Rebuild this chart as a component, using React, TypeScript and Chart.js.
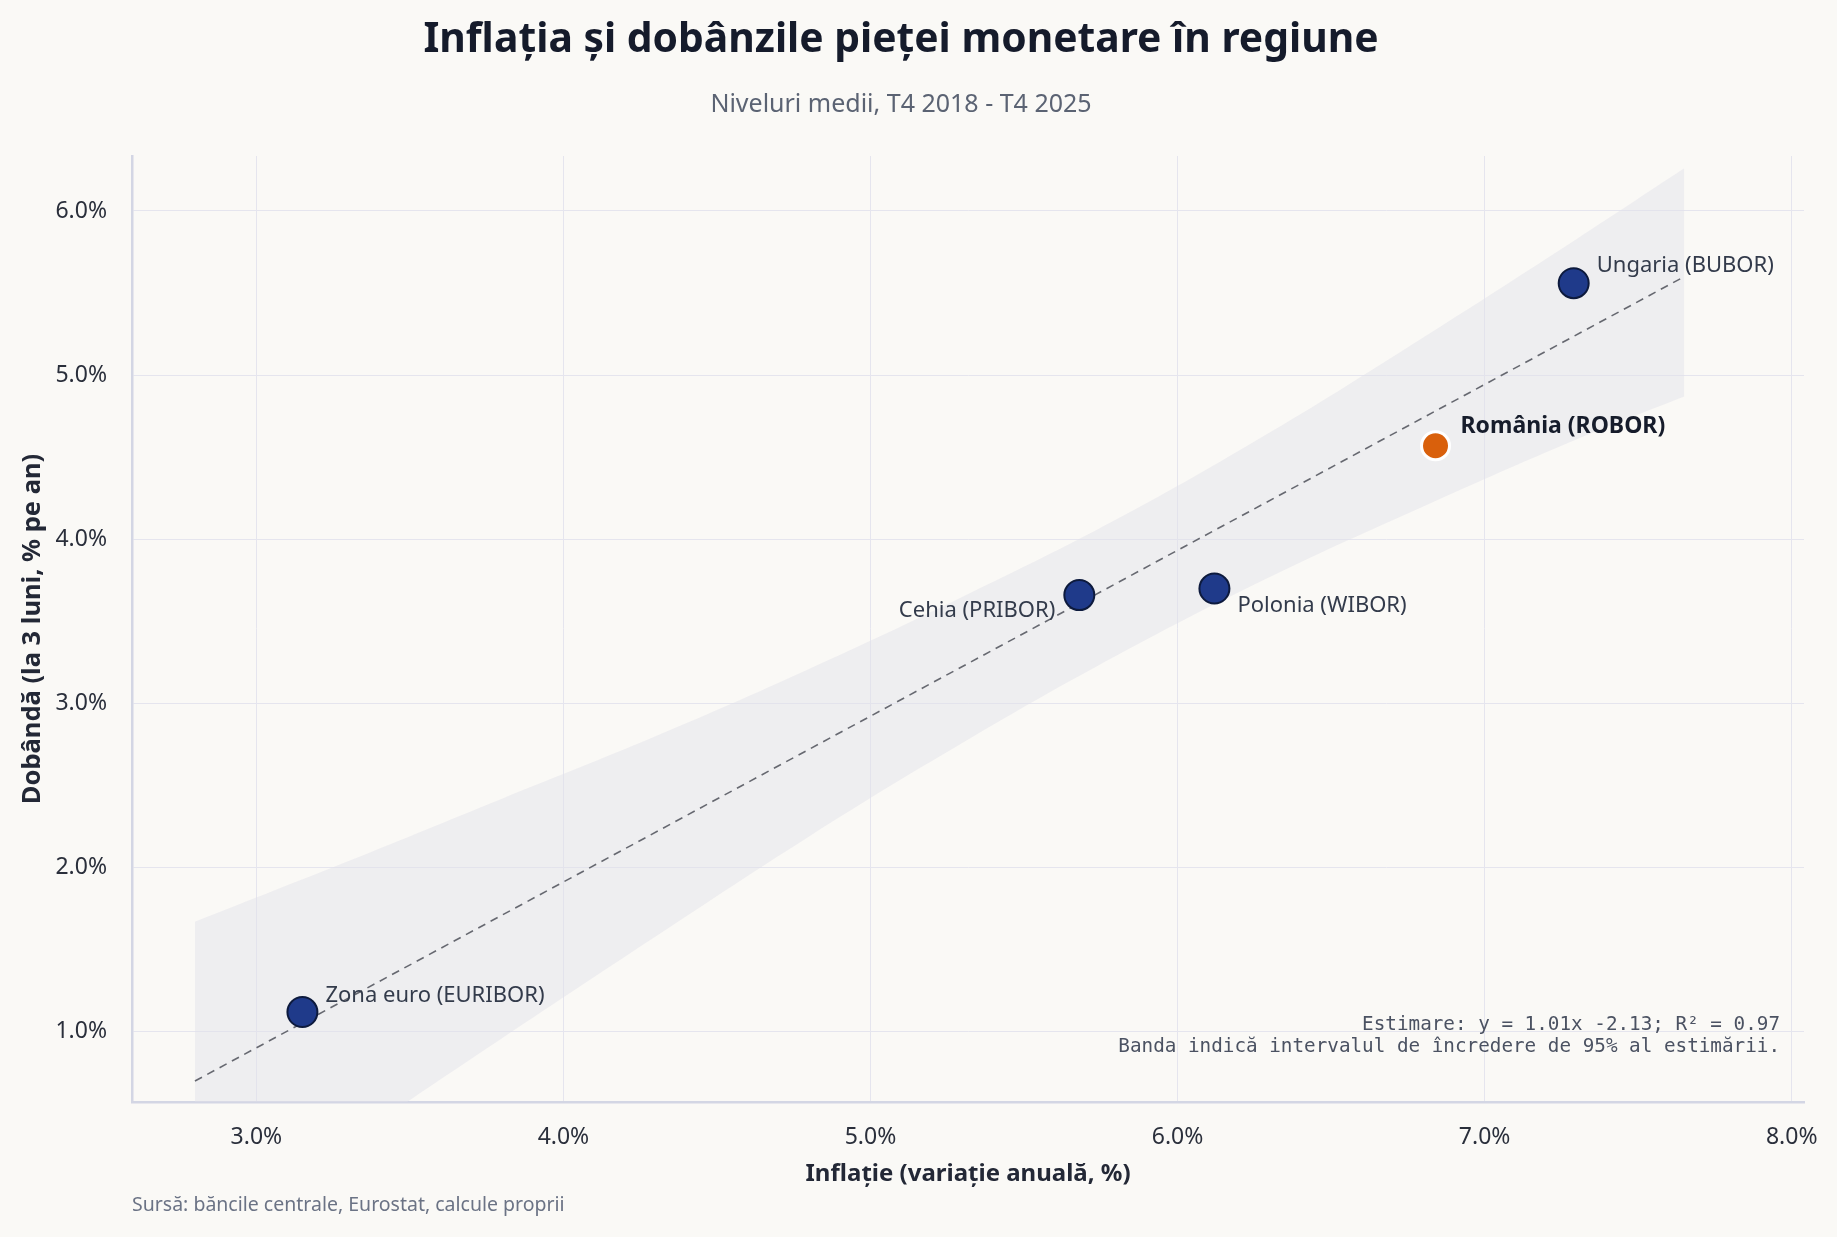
import React, { useEffect, useRef } from 'react';
import { Chart, registerables } from 'chart.js';

Chart.register(...registerables);

// ---- Data ----
const countries = ['Zona euro (EURIBOR)', 'Cehia (PRIBOR)', 'Polonia (WIBOR)', 'România (ROBOR)', 'Ungaria (BUBOR)'];
const inflation = [3.15, 5.68, 6.12, 6.84, 7.29];
const interest = [1.12, 3.66, 3.70, 4.57, 5.56];
const highlightIndex = 3;

const fitX = [2.8, 7.65];
const fitY = [0.70, 5.60];

const bandX = [2.8, 3.3, 3.8, 4.3, 4.8, 5.3, 5.8, 6.3, 6.8, 7.3, 7.65];
const bandUpper = [1.67, 2.04, 2.42, 2.80, 3.21, 3.65, 4.12, 4.65, 5.23, 5.83, 6.26];
const bandLower = [-0.31, 0.33, 0.96, 1.58, 2.19, 2.76, 3.29, 3.77, 4.20, 4.61, 4.87];

const xTicks = [3, 4, 5, 6, 7, 8];
const yTicks = [1, 2, 3, 4, 5, 6];
const xRange = [2.595, 8.04];
const yRange = [0.572, 6.335];

const titleText = 'Inflația și dobânzile pieței monetare în regiune';
const subtitleText = 'Niveluri medii, T4 2018 - T4 2025';
const xTitle = 'Inflație (variație anuală, %)';
const yTitle = 'Dobândă (la 3 luni, % pe an)';
const sourceText = 'Sursă: băncile centrale, Eurostat, calcule proprii';
const noteLines = ['Estimare: y = 1.01x -2.13; R² = 0.97', 'Banda indică intervalul de încredere de 95% al estimării.'];

// ---- Styles ----
const BG = '#faf9f6';
const FONT = '"Noto Sans", "Open Sans", sans-serif';
const MONO = '"DejaVu Sans Mono", "Liberation Mono", monospace';
const W = 1837;
const H = 1237;

const labelLayout = [
  { dx: 23, dy: -16, align: 'left' },
  { dx: -24, dy: 16, align: 'right' },
  { dx: 23, dy: 17, align: 'left' },
  { dx: 25, dy: -19, align: 'left' },
  { dx: 23, dy: -17, align: 'left' },
];

const bgPlugin = {
  id: 'bgPlugin',
  beforeDraw(chart: any) {
    const ctx = chart.ctx;
    ctx.save();
    ctx.fillStyle = BG;
    ctx.fillRect(0, 0, chart.width, chart.height);
    ctx.restore();
  },
};

const textPlugin = {
  id: 'textPlugin',
  afterDatasetsDraw(chart: any) {
    const ctx = chart.ctx;
    const xs = chart.scales.x;
    const ys = chart.scales.y;
    ctx.save();
    countries.forEach((name, i) => {
      const px = xs.getPixelForValue(inflation[i]);
      const py = ys.getPixelForValue(interest[i]);
      const l = labelLayout[i];
      const hl = i === highlightIndex;
      ctx.font = `${hl ? 'bold ' : ''}${hl ? 23 : 22}px ${FONT}`;
      ctx.fillStyle = hl ? '#161c2b' : '#333b4b';
      ctx.textAlign = l.align;
      ctx.textBaseline = 'middle';
      ctx.fillText(name, px + l.dx, py + l.dy);
    });
    // note
    ctx.font = `19.3px ${MONO}`;
    ctx.fillStyle = '#4b5262';
    ctx.textAlign = 'right';
    ctx.textBaseline = 'middle';
    ctx.fillText(noteLines[0], 1780, 1025);
    ctx.fillText(noteLines[1], 1780, 1047);
    ctx.restore();
  },
  afterDraw(chart: any) {
    const ctx = chart.ctx;
    ctx.save();
    ctx.textAlign = 'center';
    ctx.textBaseline = 'middle';
    ctx.fillStyle = '#151b2b';
    ctx.font = `bold 40.8px ${FONT}`;
    ctx.fillText(titleText, 901, 40);
    ctx.fillStyle = '#5b6373';
    ctx.font = `25px ${FONT}`;
    ctx.fillText(subtitleText, 901, 105);
    ctx.textAlign = 'left';
    ctx.fillStyle = '#6b7385';
    ctx.font = `19.5px ${FONT}`;
    ctx.fillText(sourceText, 132, 1205);
    ctx.restore();
  },
};

export default function App() {
  const ref = useRef<HTMLCanvasElement | null>(null);

  useEffect(() => {
    document.body.style.margin = '0';
    document.body.style.background = BG;
    const canvas = ref.current;
    if (!canvas) return;
    const pointColors = inflation.map((_, i) => (i === highlightIndex ? '#d9600c' : '#1f3a8a'));
    const pointBorders = inflation.map((_, i) => (i === highlightIndex ? '#ffffff' : '#0d1a3d'));
    const chart = new Chart(canvas, {
      type: 'scatter',
      data: {
        datasets: [
          {
            label: 'Țări',
            data: inflation.map((x, i) => ({ x, y: interest[i] })),
            backgroundColor: pointColors,
            borderColor: pointBorders,
            borderWidth: inflation.map((_, i) => (i === highlightIndex ? 3 : 2)),
            pointRadius: inflation.map((_, i) => (i === highlightIndex ? 14 : 15)),
            pointHoverRadius: 15,
          },
          {
            label: 'Estimare',
            data: fitX.map((x, i) => ({ x, y: fitY[i] })),
            showLine: true,
            borderColor: '#666870',
            borderWidth: 1.6,
            borderDash: [8, 6],
            pointRadius: 0,
            fill: false,
          },
          {
            label: 'Banda sus',
            data: bandX.map((x, i) => ({ x, y: bandUpper[i] })),
            showLine: true,
            borderWidth: 0,
            borderColor: 'rgba(0,0,0,0)',
            backgroundColor: 'rgba(224,224,232,0.45)',
            pointRadius: 0,
            tension: 0.4,
            fill: '+1',
          },
          {
            label: 'Banda jos',
            data: bandX.map((x, i) => ({ x, y: bandLower[i] })),
            showLine: true,
            borderWidth: 0,
            borderColor: 'rgba(0,0,0,0)',
            pointRadius: 0,
            tension: 0.4,
            fill: false,
          },
        ],
      },
      options: {
        responsive: false,
        animation: false,
        layout: { padding: { left: 0, right: 33, top: 156, bottom: 0 } },
        plugins: {
          legend: { display: false },
          tooltip: { enabled: false },
          title: { display: false },
        },
        scales: {
          x: {
            type: 'linear',
            min: xRange[0],
            max: xRange[1],
            afterFit: (axis: any) => {
              axis.height = H - 1102;
              axis.paddingLeft = 0;
              axis.paddingRight = 0;
            },
            afterBuildTicks: (axis: any) => { axis.ticks = xTicks.map((v) => ({ value: v })); },
            ticks: {
              includeBounds: false,
              padding: 22,
              color: '#2a2f3b',
              font: { family: FONT, size: 23 },
              callback: (v: any) => Number(v).toFixed(1) + '%',
            },
            grid: { color: '#e5e5ee', lineWidth: 1, drawTicks: false },
            border: { color: '#d3d6e4', width: 2.5 },
            title: {
              display: true,
              text: xTitle,
              color: '#232836',
              font: { family: FONT, size: 24, weight: 'bold' },
              padding: { top: 0, bottom: 48 },
            },
          },
          y: {
            type: 'linear',
            min: yRange[0],
            max: yRange[1],
            afterFit: (axis: any) => {
              axis.width = 132;
              axis.paddingTop = 0;
              axis.paddingBottom = 0;
            },
            afterBuildTicks: (axis: any) => { axis.ticks = yTicks.map((v) => ({ value: v })); },
            ticks: {
              includeBounds: false,
              padding: 25,
              color: '#2a2f3b',
              font: { family: FONT, size: 23 },
              callback: (v: any) => Number(v).toFixed(1) + '%',
            },
            grid: { color: '#e5e5ee', lineWidth: 1, drawTicks: false },
            border: { color: '#d3d6e4', width: 2.5 },
            title: {
              display: true,
              text: yTitle,
              color: '#232836',
              font: { family: FONT, size: 25.5, weight: 'bold' },
              padding: { top: 17, bottom: 0 },
            },
          },
        },
      },
      plugins: [bgPlugin, textPlugin],
    });
    return () => chart.destroy();
  }, []);

  return (
    <div style={{ width: W, height: H, background: BG }}>
      <canvas ref={ref} width={W} height={H} style={{ display: 'block', width: W, height: H }} />
    </div>
  );
}
